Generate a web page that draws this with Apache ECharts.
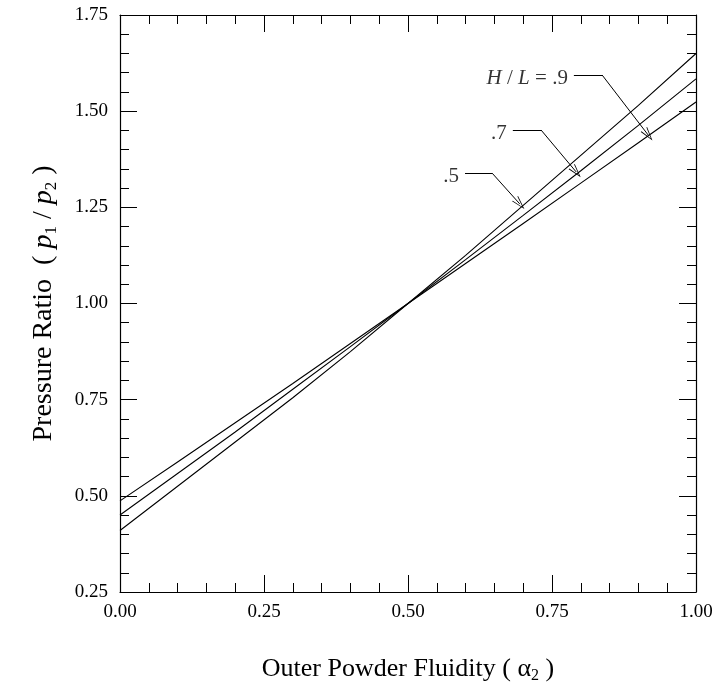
<!DOCTYPE html>
<html>
<head>
<meta charset="utf-8">
<script src="https://cdn.jsdelivr.net/npm/echarts@6/dist/echarts.min.js"></script>
<style>
html,body{margin:0;padding:0;background:#fff}
#main{width:713px;height:687px}
</style>
</head>
<body>
<div id="main"></div>
<script>
// values
var fluidity=[0,0.1,0.2,0.3,0.4,0.5,0.6,0.7,0.8,0.9,1.0];
var ratioHL5=[0.41,0.525,0.64,0.755,0.875,1.0,1.125,1.255,1.385,1.515,1.65];
var ratioHL7=[0.45,0.558,0.666,0.777,0.888,1.0,1.114,1.229,1.345,1.463,1.584];
var ratioHL9=[0.487,0.588,0.69,0.792,0.896,1.0,1.104,1.208,1.313,1.418,1.524];
var hlLabels=['.5','.7','.9'];

// callout leader lines: text anchor, elbow, arrow tip (data coords)
var callouts=[
  {start:[0.599,1.339],elbow:[0.646,1.339],tip:[0.694,1.259]},
  {start:[0.682,1.451],elbow:[0.731,1.451],tip:[0.792,1.342]},
  {start:[0.788,1.594],elbow:[0.837,1.594],tip:[0.917,1.438]}
];

var font='"Liberation Serif","Times New Roman",serif';
var chevron='path://M5,0 L10,13 L8.9,13 L5,2.4 L1.1,13 L0,13 Z';

function pairs(ys){
  return fluidity.map(function(x,i){return [x,ys[i]]});
}

var chart=echarts.init(document.getElementById('main'));

var tickStyle={color:'#000',width:1};
function xAx(pos,withLabel){
  return {
    type:'value',min:0,max:1,interval:0.25,position:pos,
    axisLine:{show:true,onZero:false,lineStyle:{color:'#000',width:1.2}},
    axisTick:{show:true,inside:true,length:17,lineStyle:tickStyle},
    minorTick:{show:true,splitNumber:5,length:9,lineStyle:tickStyle},
    splitLine:{show:false},
    axisLabel:{show:withLabel,margin:11,color:'#000',fontFamily:font,fontSize:19,
      formatter:function(v){return v.toFixed(2)}}
  };
}
function yAx(pos,withLabel){
  return {
    type:'value',min:0.25,max:1.75,interval:0.25,position:pos,
    axisLine:{show:true,onZero:false,lineStyle:{color:'#000',width:1.2}},
    axisTick:{show:true,inside:true,length:17,lineStyle:tickStyle},
    minorTick:{show:true,splitNumber:5,length:9,lineStyle:tickStyle},
    splitLine:{show:false},
    axisLabel:{show:withLabel,margin:12,color:'#000',fontFamily:font,fontSize:19,
      formatter:function(v){return v.toFixed(2)}}
  };
}

var xBottom=xAx('bottom',true);
xBottom.name='{t|Outer Powder Fluidity ( α}{s|2}{t| )}';
xBottom.nameLocation='middle';
xBottom.nameGap=62;
xBottom.nameTextStyle={rich:{
  t:{fontFamily:font,fontSize:26,color:'#000'},
  s:{fontFamily:font,fontSize:16,color:'#000',padding:[14,0,0,0]}
}};

var yLeft=yAx('left',true);
yLeft.name='{t|Pressure Ratio  ( }{i|p}{s|1}{t| / }{i|p}{s|2}{t| )}';
yLeft.nameLocation='middle';
yLeft.nameRotate=90;
yLeft.nameGap=60;
yLeft.nameTextStyle={rich:{
  t:{fontFamily:font,fontSize:28,color:'#000'},
  i:{fontFamily:font,fontSize:28,fontStyle:'italic',color:'#000'},
  s:{fontFamily:font,fontSize:17,color:'#000',padding:[15,0,0,0]}
}};

var lineSeries=[ratioHL5,ratioHL7,ratioHL9].map(function(ys,i){
  return {
    name:'H/L='+hlLabels[i],type:'line',data:pairs(ys),
    symbol:'none',smooth:false,silent:true,
    lineStyle:{color:'#000',width:1.1}
  };
});

var leaderData=[];
callouts.forEach(function(c){
  leaderData.push([{coord:c.start},{coord:c.elbow}]);
  leaderData.push([{coord:c.elbow},{coord:c.tip,symbol:chevron,symbolSize:[8,14]}]);
});

var calloutSeries={
  name:'callouts',type:'scatter',symbolSize:0,silent:true,
  data:callouts.map(function(c,i){
    var txt=i===2?'{i|H}{t| / }{i|L}{t| = '+hlLabels[i]+'}':'{t|'+hlLabels[i]+'}';
    return {value:c.start,label:{formatter:txt}};
  }),
  label:{show:true,position:'left',distance:6,offset:[0,3],
    rich:{
      t:{fontFamily:font,fontSize:21,color:'#000'},
      i:{fontFamily:font,fontSize:21,fontStyle:'italic',color:'#000'}
    }},
  markLine:{
    silent:true,animation:false,
    symbol:['none','none'],
    label:{show:false},
    lineStyle:{color:'#000',width:1,type:'solid'},
    emphasis:{disabled:true},
    data:leaderData
  }
};

var option={
  animation:false,
  backgroundColor:'#fff',
  grid:{left:120,right:17,top:15,bottom:95,outerBoundsMode:'none'},
  xAxis:[xBottom,xAx('top',false)],
  yAxis:[yLeft,yAx('right',false)],
  series:lineSeries.concat([calloutSeries])
};
chart.setOption(option,true);
</script>
</body>
</html>
